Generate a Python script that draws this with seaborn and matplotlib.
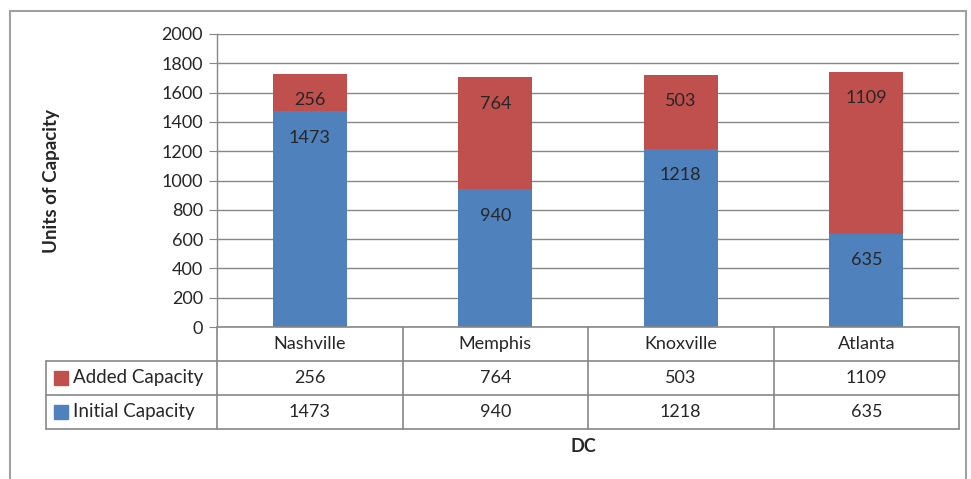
import matplotlib
matplotlib.use("Agg")
import matplotlib.pyplot as plt
import seaborn as sns
from matplotlib.patches import Rectangle
from matplotlib.lines import Line2D
from matplotlib.transforms import blended_transform_factory

# data
cities = ["Nashville", "Memphis", "Knoxville", "Atlanta"]
initial = [1473, 940, 1218, 635]
added = [256, 764, 503, 1109]
series_names = ["Added Capacity", "Initial Capacity"]

blue = "#4F81BD"
red = "#C0504D"
grey = "#878787"

sns.set_style("white")
plt.rcParams["font.family"] = ["Lato", "DejaVu Sans"]

fig = plt.figure(figsize=(9.71, 4.79), dpi=100)
W, H = 971, 479
ax = fig.add_axes([217 / W, 1 - 327 / H, (959 - 217) / W, (327 - 34) / H])

totals = [a + b for a, b in zip(initial, added)]
sns.barplot(x=cities, y=totals, color=red, width=0.4, saturation=1,
            linewidth=0, ax=ax)
sns.barplot(x=cities, y=initial, color=blue, width=0.4, saturation=1,
            linewidth=0, ax=ax)

fs = 13
# labels near the inside end of each segment
for i in range(len(cities)):
    ax.annotate(str(added[i]), (i, totals[i]), xytext=(0, -19),
                textcoords="offset points", ha="center", va="center", fontsize=fs)
    ax.annotate(str(initial[i]), (i, initial[i]), xytext=(0, -19),
                textcoords="offset points", ha="center", va="center", fontsize=fs)

ax.set_ylim(0, 2000)
ax.set_xlim(-0.5, 3.5)
ax.set_yticks(range(0, 2001, 200))
ax.yaxis.grid(True, color=grey, linewidth=1)
ax.set_axisbelow(True)
ax.tick_params(axis="y", left=True, length=6, color=grey, labelsize=fs, pad=4)
ax.tick_params(axis="x", bottom=False, labelbottom=False)
ax.set_xlabel("")
for s in ["top", "right", "bottom"]:
    ax.spines[s].set_visible(False)
ax.spines["left"].set_color(grey)
ax.spines["left"].set_linewidth(1)

# data table under the plot: x in data units, y in figure pixels (from top)
tr = blended_transform_factory(ax.transData, fig.transFigure)
def fy(py):
    return 1 - py / H

row_y = [327, 361, 395, 429]
x_left = -0.5 - (217 - 46) / ((959 - 217) / 4)   # left edge of label column
lw = 1.2

def hline(x0, x1, py):
    fig.add_artist(Line2D([x0, x1], [fy(py), fy(py)], transform=tr,
                          color=grey, linewidth=lw, clip_on=False))

def vline(x, py0, py1):
    fig.add_artist(Line2D([x, x], [fy(py0), fy(py1)], transform=tr,
                          color=grey, linewidth=lw, clip_on=False))

hline(-0.5, 3.5, row_y[0])
for py in row_y[1:]:
    hline(x_left, 3.5, py)
vline(x_left, row_y[1], row_y[3])
for k in range(len(cities) + 1):
    vline(-0.5 + k, row_y[0], row_y[3])

for i, city in enumerate(cities):
    fig.text(i, fy(344), city, transform=tr, ha="center", va="center", fontsize=fs)
    fig.text(i, fy(378), str(added[i]), transform=tr, ha="center", va="center", fontsize=fs)
    fig.text(i, fy(412), str(initial[i]), transform=tr, ha="center", va="center", fontsize=fs)

for k, (name, col) in enumerate(zip(series_names, [red, blue])):
    yc = 378 + 34 * k
    fig.add_artist(Rectangle((54 / W, fy(yc + 7)), 14 / W, 14 / H,
                             transform=fig.transFigure, color=col))
    fig.text(73 / W, fy(yc), name, ha="left", va="center", fontsize=fs + 0.5)

fig.text(52 / W, fy(181), "Units of Capacity", rotation=90, ha="center",
         va="center", fontsize=13.5, fontweight="bold")
fig.text(583 / W, fy(447), "DC", ha="center", va="center",
         fontsize=13, fontweight="bold")

# outer chart frame
fig.add_artist(Rectangle((10 / W, -0.05), (966 - 10) / W, 1.05 - 11 / H,
                         transform=fig.transFigure, fill=False,
                         edgecolor="#a0a0a0", linewidth=1.5))

fig.savefig("out.png", dpi=100)
